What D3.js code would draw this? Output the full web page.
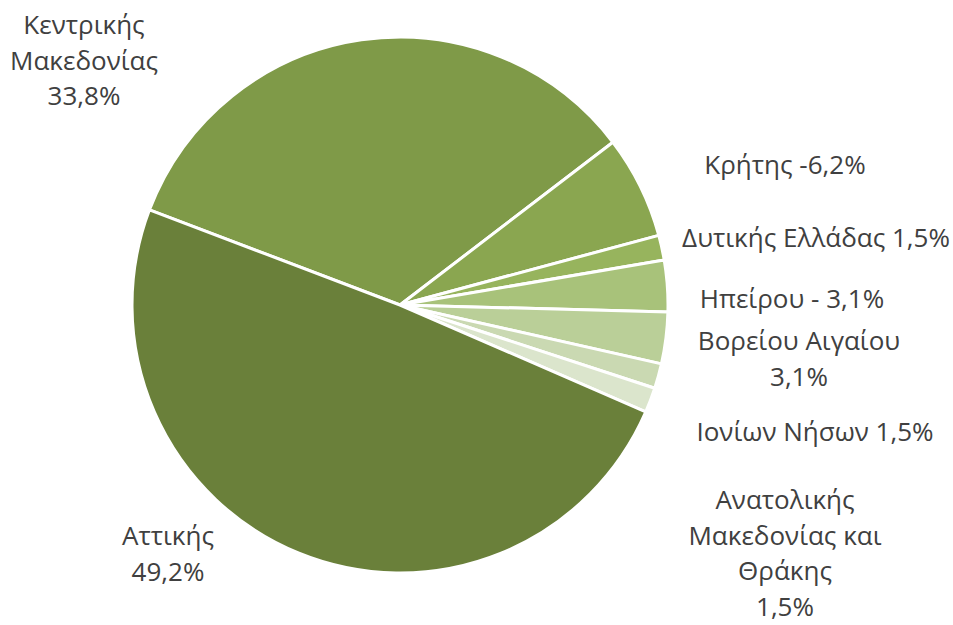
<!DOCTYPE html>
<html>
<head>
<meta charset="utf-8">
<script src="https://cdn.jsdelivr.net/npm/d3@7"></script>
<style>
  body { margin: 0; background: #fff; }
  text { font-family: "Open Sans", "Noto Sans", sans-serif; fill: #404040; }
</style>
</head>
<body>
<div id="container"></div>
<script>
// slices in clockwise order, starting with Κεντρικής Μακεδονίας
const regions = ["Κεντρικής Μακεδονίας", "Κρήτης", "Δυτικής Ελλάδας", "Ηπείρου", "Βορείου Αιγαίου",
  "Ιονίων Νήσων", "Ανατολικής Μακεδονίας και Θράκης", "Αττικής"];
const shares = [33.8, 6.2, 1.5, 3.1, 3.1, 1.5, 1.5, 49.2];
const labelLines = [
  ["Κεντρικής", "Μακεδονίας", "33,8%"],
  ["Κρήτης -6,2%"],
  ["Δυτικής Ελλάδας 1,5%"],
  ["Ηπείρου - 3,1%"],
  ["Βορείου Αιγαίου", "3,1%"],
  ["Ιονίων Νήσων 1,5%"],
  ["Ανατολικής", "Μακεδονίας και", "Θράκης", "1,5%"],
  ["Αττικής", "49,2%"]
];
const colors = ["#7f9a48", "#8aa650", "#97b45d", "#a8c27a", "#bacf98", "#cad9b2", "#dbe5cc", "#6a803a"];

const w = 953;
const h = 625;
const cx = 400;
const cy = 305;
const r = 268;

// label anchors (centre of the first line)
const labelAnchors = [[84, 25], [785, 165], [816, 238], [792, 299], [799, 341], [815, 432], [785, 500], [168, 536]];
const lineHeight = 35.5;

const svg = d3.select("#container")
  .append("svg")
  .attr("width", w)
  .attr("height", h);

const startDeg = -69.2;
const pie = d3.pie()
  .sort(null)
  .value(d => d)
  .startAngle(startDeg * Math.PI / 180)
  .endAngle((startDeg + 360) * Math.PI / 180);

const arc = d3.arc().innerRadius(0).outerRadius(r);

const g = svg.append("g").attr("transform", `translate(${cx},${cy})`);

g.selectAll("path")
  .data(pie(shares))
  .enter()
  .append("path")
  .attr("d", arc)
  .attr("fill", (d, i) => colors[i])
  .attr("stroke", "#fff")
  .attr("stroke-width", 3)
  .attr("stroke-linejoin", "round");

//LABELS
const labels = svg.selectAll("text.label")
  .data(labelLines)
  .enter()
  .append("text")
  .attr("class", "label")
  .attr("text-anchor", "middle")
  .attr("font-size", 26);

labels.each(function(lines, i) {
  const t = d3.select(this);
  lines.forEach((line, k) => {
    t.append("tspan")
      .attr("x", labelAnchors[i][0])
      .attr("y", labelAnchors[i][1] + k * lineHeight)
      .attr("dy", "0.35em")
      .text(line);
  });
});
</script>
</body>
</html>
